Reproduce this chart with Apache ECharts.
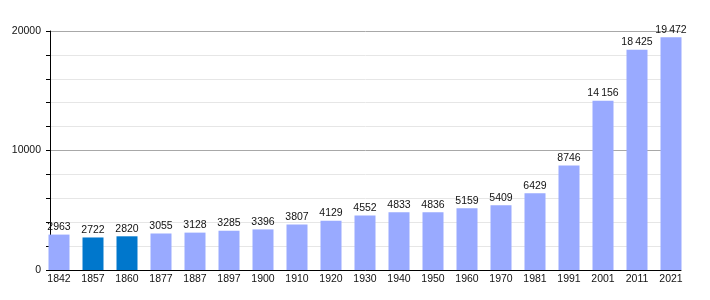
<!DOCTYPE html>
<html>
<head>
<meta charset="utf-8">
<script src="https://cdn.jsdelivr.net/npm/echarts@6/dist/echarts.min.js"></script>
<style>html,body{margin:0;padding:0;background:#fff}#c{width:710px;height:300px}</style>
</head>
<body>
<div id="c"></div>
<script>
var years = ['1842','1857','1860','1877','1887','1897','1900','1910','1920','1930','1940','1950','1960','1970','1981','1991','2001','2011','2021'];
var population = [2963,2722,2820,3055,3128,3285,3396,3807,4129,4552,4833,4836,5159,5409,6429,8746,14156,18425,19472];
var highlighted = ['1857','1860'];
var yTickLabels = [0, 10000, 20000];

var lightColor = '#99aaff';
var darkColor = '#0077cc';
var font = 'Liberation Sans, Arial, sans-serif';

function fmt(v) {
  var s = String(v);
  if (v >= 10000) s = s.slice(0, s.length - 3) + '\u2009' + s.slice(s.length - 3);
  return s;
}

var chart = echarts.init(document.getElementById('c'), null, {renderer: 'canvas'});
chart.setOption({
  animation: false,
  backgroundColor: '#fff',
  grid: [
    {left: 50, right: 29, top: 31, bottom: 30},
    {left: 42, right: 22, top: 31, bottom: 30}
  ],
  xAxis: [
    {gridIndex: 0, type: 'value', min: 0, max: 1,
     axisLine: {show: true, onZero: false, lineStyle: {color: '#000', width: 1}},
     axisTick: {show: false}, axisLabel: {show: false}, splitLine: {show: false}},
    {gridIndex: 1, type: 'category', data: years,
     axisLine: {show: false}, axisTick: {show: false},
     axisLabel: {color: '#111', fontSize: 10.5, fontFamily: font, margin: 4, interval: 0}}
  ],
  yAxis: [
    {gridIndex: 0, type: 'value', min: 0, max: 20000, interval: 2000,
     axisLine: {show: true, lineStyle: {color: '#000', width: 1}},
     axisTick: {show: true, length: 4, lineStyle: {color: '#000'}},
     axisLabel: {color: '#111', fontSize: 10.5, fontFamily: font, margin: 9,
       formatter: function (v) { return yTickLabels.indexOf(v) >= 0 ? String(v) : ''; }},
     splitLine: {show: true, lineStyle: {color: ['#a8a8a8', '#e6e6e6', '#e6e6e6', '#e6e6e6', '#e6e6e6'], width: 1}}},
    {gridIndex: 1, type: 'value', min: 0, max: 20000, show: false, splitLine: {show: false}}
  ],
  series: [{
    type: 'bar',
    xAxisIndex: 1, yAxisIndex: 1,
    barWidth: 21,
    data: population.map(function (v, i) {
      return {value: v, itemStyle: {color: highlighted.indexOf(years[i]) >= 0 ? darkColor : lightColor}};
    }),
    label: {
      show: true, position: 'top', distance: 2,
      color: '#111', fontSize: 10.5, fontFamily: font,
      formatter: function (p) { return fmt(p.value); }
    }
  }]
});
</script>
</body>
</html>
